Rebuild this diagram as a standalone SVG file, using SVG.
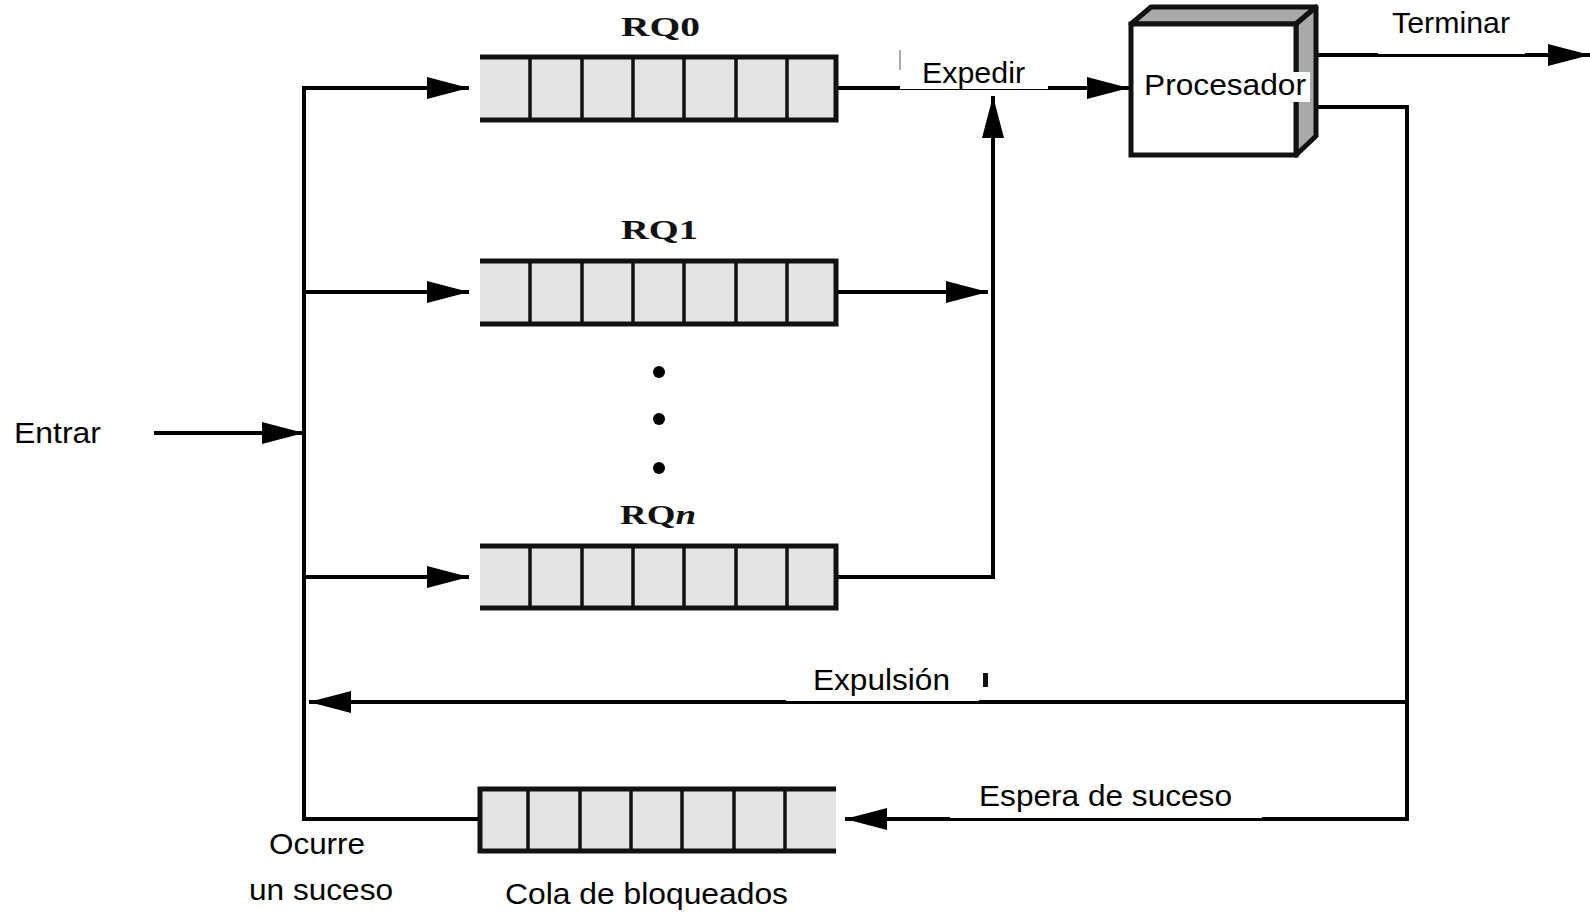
<svg xmlns="http://www.w3.org/2000/svg" width="1590" height="912" viewBox="0 0 1590 912">
<style>
.q{fill:#e4e4e4;stroke:none}
.qe{stroke:#111;stroke-width:5;fill:none}
.qd{stroke:#111;stroke-width:3.5;fill:none}
.c{stroke:#000;stroke-width:4;fill:none;marker-end:url(#ah)}
.t{font-family:"Liberation Sans",Arial,sans-serif;font-size:30px;fill:#000}
.rq{font-family:"Liberation Serif","Times New Roman",serif;font-size:28px;font-weight:bold;fill:#111}
.wb{fill:#fff;stroke:none}
</style>
<defs>
<marker id="ah" viewBox="0 0 42 22" refX="42" refY="11" markerWidth="42" markerHeight="22" markerUnits="userSpaceOnUse" orient="auto">
<path d="M0,0 L42,11 L0,22 Z" fill="#000"/>
</marker>
<g id="cells">
<path class="qd" d="M530,0 v63 M582,0 v63 M633,0 v63 M684,0 v63 M736,0 v63 M787,0 v63"/>
</g>
</defs>
<rect width="1590" height="912" fill="#fff"/>

<g id="connectors">
<line class="c" x1="154" y1="433" x2="304" y2="433"/>
<path class="c" d="M480,819 H304 V88 H469"/>
<line class="c" x1="304" y1="292" x2="469" y2="292"/>
<line class="c" x1="304" y1="577" x2="469" y2="577"/>
<line class="c" x1="836" y1="88" x2="1129" y2="88"/>
<line class="c" x1="836" y1="292" x2="988" y2="292"/>
<path class="c" d="M836,577 H993 V96"/>
<line class="c" x1="1307" y1="55" x2="1590" y2="55"/>
<path class="c" d="M1307,107 H1407 V819 H845"/>
<line class="c" x1="1407" y1="702" x2="309" y2="702"/>
</g>

<g id="rq0">
<rect class="q" x="480" y="57" width="356" height="63"/>
<use href="#cells" y="57"/>
<path class="qe" d="M480,57 H836 V120 H480"/>
<text class="rq" x="621" y="36" textLength="79" lengthAdjust="spacingAndGlyphs">RQ0</text>
</g>

<g id="rq1">
<rect class="q" x="480" y="261" width="356" height="63"/>
<use href="#cells" y="261"/>
<path class="qe" d="M480,261 H836 V324 H480"/>
<text class="rq" x="621" y="239" textLength="77" lengthAdjust="spacingAndGlyphs">RQ1</text>
</g>

<g id="dots" fill="#000">
<circle cx="659" cy="372" r="6"/>
<circle cx="659" cy="419" r="6"/>
<circle cx="659" cy="468" r="6"/>
</g>

<g id="rqn">
<rect class="q" x="480" y="546" width="356" height="62"/>
<use href="#cells" y="546"/>
<path class="qe" d="M480,546 H836 V608 H480"/>
<text class="rq" x="620" y="524" textLength="76" lengthAdjust="spacingAndGlyphs">RQ<tspan font-style="italic">n</tspan></text>
</g>

<g id="blocked">
<rect class="q" x="480" y="789" width="356" height="62"/>
<use href="#cells" y="789" x="-2"/>
<path class="qe" d="M836,789 H480 V851 H836"/>
<text class="t" x="505" y="904" textLength="283" lengthAdjust="spacingAndGlyphs">Cola de bloqueados</text>
</g>

<g id="processor">
<polygon points="1131,24 1151,7 1316,7 1296,24" fill="#a9a9a9" stroke="#111" stroke-width="5" stroke-linejoin="round"/>
<polygon points="1296,24 1316,7 1316,136 1296,155" fill="#a9a9a9" stroke="#111" stroke-width="5" stroke-linejoin="round"/>
<rect x="1131" y="24" width="165" height="131" fill="#fff" stroke="#111" stroke-width="5"/>
<rect class="wb" x="1142" y="72" width="168" height="30"/>
<text class="t" x="1144" y="95" textLength="162" lengthAdjust="spacingAndGlyphs">Procesador</text>
</g>

<g id="label-entrar">
<text class="t" x="14" y="443" textLength="87" lengthAdjust="spacingAndGlyphs">Entrar</text>
</g>

<g id="label-expedir">
<rect class="wb" x="900" y="47" width="148" height="42"/>
<line x1="900" y1="50" x2="900" y2="70" stroke="#aaa" stroke-width="2"/>
<text class="t" x="922" y="83" textLength="103" lengthAdjust="spacingAndGlyphs">Expedir</text>
</g>

<g id="label-terminar">
<rect class="wb" x="1378" y="5" width="147" height="49"/>
<text class="t" x="1392" y="33" textLength="118" lengthAdjust="spacingAndGlyphs">Terminar</text>
</g>

<g id="label-expulsion">
<rect class="wb" x="786" y="659" width="193" height="42"/>
<text class="t" x="813" y="690" textLength="137" lengthAdjust="spacingAndGlyphs">Expulsión</text>
<rect x="983" y="673" width="5" height="14" fill="#111"/>
</g>

<g id="label-espera">
<rect class="wb" x="950" y="781" width="312" height="37"/>
<text class="t" x="979" y="806" textLength="253" lengthAdjust="spacingAndGlyphs">Espera de suceso</text>
</g>

<g id="label-ocurre">
<text class="t" x="269" y="854" textLength="96" lengthAdjust="spacingAndGlyphs">Ocurre</text>
<text class="t" x="249" y="900" textLength="144" lengthAdjust="spacingAndGlyphs">un suceso</text>
</g>
</svg>
